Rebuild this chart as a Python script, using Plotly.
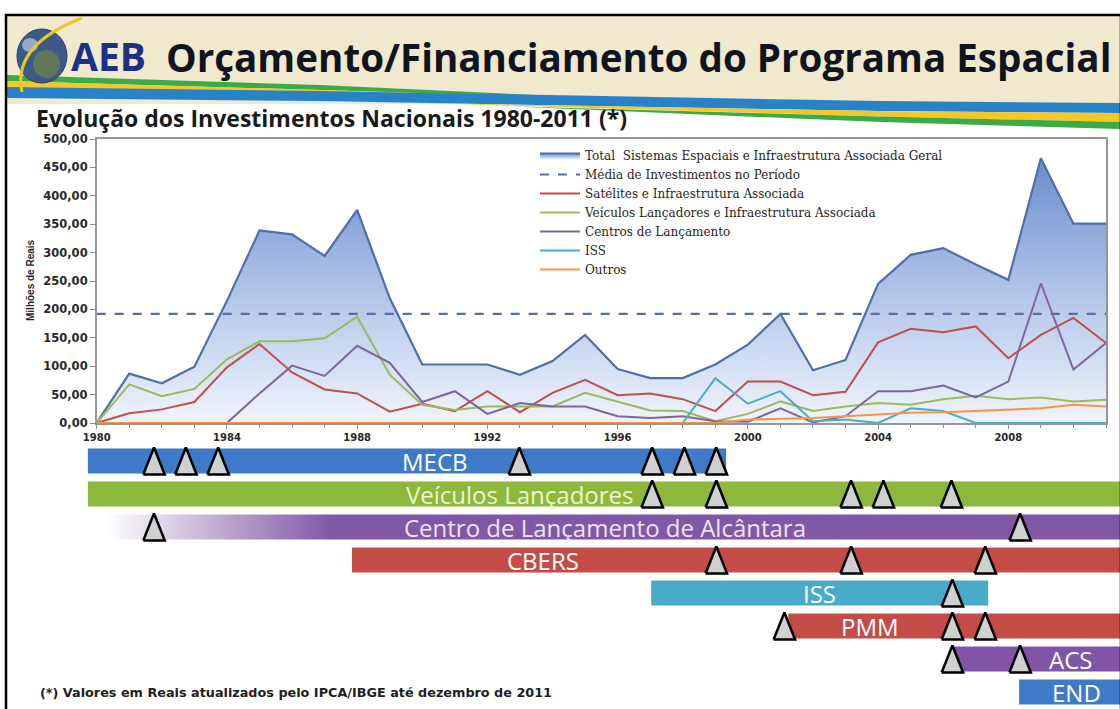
import plotly.graph_objects as go

W, H = 1120, 709

# ---------------- data ----------------
years = list(range(1980, 2012))
total = [0, 87, 70, 99, 215, 339, 332, 294, 375, 220, 103, 103, 103, 85, 109, 155,
         95, 79, 79, 103, 138, 192, 93, 111, 245, 296, 308, 279, 252, 466, 351, 351]
satelites = [0, 17, 24, 37, 98, 139, 89, 59, 52, 20, 34, 21, 56, 19, 53, 76,
             49, 52, 42, 21, 73, 73, 49, 55, 142, 166, 160, 170, 114, 155, 185, 141]
veiculos = [0, 68, 47, 60, 112, 144, 144, 149, 187, 85, 32, 23, 29, 29, 29, 53,
            38, 22, 21, 3, 16, 38, 21, 29, 35, 32, 42, 48, 42, 45, 38, 41]
centros = [None, None, None, None, 0, 52, 101, 83, 136, 106, 37, 56, 16, 35, 29, 29,
           12, 9, 12, 3, 2, 26, 1, 12, 56, 56, 66, 45, 73, 246, 94, 141]
iss = [0, 0, 0, 0, 0, 0, 0, 0, 0, 0, 0, 0, 0, 0, 0, 0,
       0, 0, 0, 79, 34, 56, 3, 6, 0, 26, 21, 0, 0, 0, 0, 0]
outros = [0, 0, 0, 0, 0, 0, 0, 0, 0, 0, 0, 0, 0, 0, 0, 0,
          0, 0, 0, 0, 6, 7, 9, 12, 15, 18, 19, 21, 23, 26, 32, 29]
media_periodo = 192

series_names = [
    "Total  Sistemas Espaciais e Infraestrutura Associada Geral",
    "Média de Investimentos no Período",
    "Satélites e Infraestrutura Associada",
    "Veículos Lançadores e Infraestrutura Associada",
    "Centros de Lançamento",
    "ISS",
    "Outros",
]

# timeline (programs)
tl_names = ["MECB", "Veículos Lançadores", "Centro de Lançamento de Alcântara", "CBERS",
            "ISS", "PMM", "ACS", "END"]
tl_start = [1979.73, 1979.73, 1979.9, 1987.84, 1997.03, 2001.24, 2006.3, 2008.33]
tl_end = [1999.33, 2011.6, 2011.6, 2011.6, 2007.38, 2011.6, 2011.6, 2011.6]
tl_row = [0, 1, 2, 3, 4, 5, 6, 7]

# milestones (triangles)
ms_year = [1981.76, 1982.74, 1983.73, 1992.98, 1997.06, 1998.05, 1999.03,
           1997.06, 1999.03, 2003.17, 2004.16, 2006.25,
           1981.76, 2008.36,
           1999.03, 2003.17, 2007.29,
           2006.28,
           2001.12, 2006.28, 2007.29,
           2006.28, 2008.36]
ms_row = [0, 0, 0, 0, 0, 0, 0,
          1, 1, 1, 1, 1,
          2, 2,
          3, 3, 3,
          4,
          5, 5, 5,
          6, 6]

# ---------------- styles ----------------
C_TOTAL = "rgb(79,110,170)"
C_RED = "rgb(192,80,77)"
C_GREEN = "rgb(155,187,89)"
C_PURPLE = "rgb(128,100,162)"
C_CYAN = "rgb(75,172,198)"
C_ORANGE = "rgb(247,150,70)"

tl_colors = ["rgb(62,122,200)", "rgb(140,184,62)", "rgb(128,88,166)", "rgb(196,76,70)",
             "rgb(72,172,200)", "rgb(196,76,70)", "rgb(128,84,166)", "rgb(62,122,200)"]
tl_text_colors = ["white", "rgb(235,247,205)", "rgb(238,228,246)", "white",
                  "white", "white", "white", "white"]
tl_label_x = [1990.4, 1993.0, 1995.6, 1993.7, 2002.2, 2003.75, 2009.9, 2010.1]


def px(x):
    return x / W


def py(y):
    return 1 - y / H


def pt(x, y):
    return f"{px(x):.4f},{py(y):.4f}"


fig = go.Figure()

# ---------------- main chart ----------------
fig.add_trace(go.Scatter(
    x=years, y=total, name=series_names[0], mode="lines",
    line=dict(color=C_TOTAL, width=2.2), fill="tozeroy",
    fillgradient=dict(type="vertical",
                      colorscale=[[0, "rgb(240,244,252)"], [0.5, "rgb(176,196,232)"],
                                  [1, "rgb(105,140,205)"]]),
))
fig.add_trace(go.Scatter(
    x=[years[0], years[-1]], y=[media_periodo, media_periodo], name=series_names[1],
    mode="lines", line=dict(color=C_TOTAL, width=2.2, dash="dash"),
))
for name, vals, col in [(series_names[2], satelites, C_RED),
                        (series_names[3], veiculos, C_GREEN),
                        (series_names[4], centros, C_PURPLE),
                        (series_names[5], iss, C_CYAN),
                        (series_names[6], outros, C_ORANGE)]:
    fig.add_trace(go.Scatter(x=years, y=vals, name=name, mode="lines",
                             line=dict(color=col, width=2)))

# ---------------- timeline ----------------
solid = [i for i in range(len(tl_names)) if i != 2]
fig.add_trace(go.Bar(
    orientation="h",
    y=[tl_row[i] for i in solid],
    base=[tl_start[i] for i in solid],
    x=[tl_end[i] - tl_start[i] for i in solid],
    width=0.76,
    marker=dict(color=[tl_colors[i] for i in solid], line=dict(width=0)),
    xaxis="x2", yaxis="y2", showlegend=False, hoverinfo="skip",
))
# gradient bar (Centro de Lançamento de Alcântara)
g = 2
hh = 0.38
fig.add_trace(go.Scatter(
    x=[tl_start[g], tl_end[g], tl_end[g], tl_start[g], tl_start[g]],
    y=[tl_row[g] - hh, tl_row[g] - hh, tl_row[g] + hh, tl_row[g] + hh, tl_row[g] - hh],
    mode="lines", line=dict(width=0), fill="toself",
    fillgradient=dict(type="horizontal", start=1980.3, stop=1987.2,
                      colorscale=[[0, "rgb(255,255,255)"], [1, tl_colors[g]]]),
    xaxis="x2", yaxis="y2", showlegend=False, hoverinfo="skip",
))
# milestone triangles
tx, ty = [], []
hw, th = 0.33, 0.41
for yr, r in zip(ms_year, ms_row):
    tx += [yr - hw, yr + hw, yr, yr - hw, None]
    ty += [r + th, r + th, r - th, r + th, None]
fig.add_trace(go.Scatter(
    x=tx, y=ty, mode="lines", fill="toself", fillcolor="rgb(208,208,208)",
    line=dict(color="black", width=2.5), xaxis="x2", yaxis="y2",
    showlegend=False, hoverinfo="skip",
))

annotations = []
for i, name in enumerate(tl_names):
    annotations.append(dict(
        x=tl_label_x[i], y=tl_row[i], xref="x2", yref="y2", text=name, showarrow=False,
        xanchor="center", yanchor="middle",
        font=dict(family="Open Sans", size=24, color=tl_text_colors[i]),
    ))

# ---------------- header & texts ----------------
annotations += [
    dict(x=px(108), y=py(56), xref="paper", yref="paper", xanchor="center", yanchor="middle",
         text="<b>AEB</b>", showarrow=False,
         font=dict(family="Open Sans", size=39, color="rgb(28,48,135)")),
    dict(x=px(164), y=py(57), xref="paper", yref="paper", xanchor="left", yanchor="middle",
         text="<b>Orçamento/Financiamento do Programa Espacial</b>", showarrow=False,
         font=dict(family="Open Sans", size=38.6, color="rgb(15,20,30)")),
    dict(x=px(34), y=py(118), xref="paper", yref="paper", xanchor="left", yanchor="middle",
         text="<b>Evolução dos Investimentos Nacionais 1980-2011 (*)</b>", showarrow=False,
         font=dict(family="Open Sans", size=23, color="rgb(25,25,25)")),
    dict(x=px(30), y=py(280), xref="paper", yref="paper", xanchor="center", yanchor="middle",
         textangle=-90, text="<b>Milhões de Reais</b>", showarrow=False,
         font=dict(family="Liberation Sans", size=10, color="rgb(40,40,40)")),
    dict(x=px(38), y=py(692), xref="paper", yref="paper", xanchor="left", yanchor="middle",
         text="<b>(*) Valores em Reais atualizados pelo IPCA/IBGE até dezembro de 2011</b>",
         showarrow=False,
         font=dict(family="DejaVu Sans", size=12.8, color="rgb(30,30,30)")),
]

shapes = [
    # header background
    dict(type="rect", xref="paper", yref="paper", x0=px(7), x1=px(1120), y0=py(104), y1=py(16),
         fillcolor="rgb(240,233,206)", line=dict(width=0), layer="below"),
    # swoosh: green (left)
    dict(type="path", xref="paper", yref="paper",
         path=f"M{pt(7,75)} L{pt(320,85)} L{pt(620,99)} L{pt(320,90)} L{pt(7,81)} Z",
         fillcolor="rgb(60,170,70)", line=dict(width=0), layer="below"),
    # yellow (left)
    dict(type="path", xref="paper", yref="paper",
         path=f"M{pt(7,81)} L{pt(320,90)} L{pt(420,93)} L{pt(320,92)} L{pt(7,88)} Z",
         fillcolor="rgb(245,200,40)", line=dict(width=0), layer="below"),
    # blue band
    dict(type="path", xref="paper", yref="paper",
         path=(f"M{pt(7,87)} L{pt(320,91)} L{pt(880,101)} L{pt(1120,103)} "
               f"L{pt(1120,113)} L{pt(880,111)} L{pt(320,101)} L{pt(7,98)} Z"),
         fillcolor="rgb(40,130,200)", line=dict(width=0), layer="below"),
    # yellow (right)
    dict(type="path", xref="paper", yref="paper",
         path=f"M{pt(420,103)} L{pt(880,111)} L{pt(1120,113)} L{pt(1120,122)} L{pt(880,116.5)} Z",
         fillcolor="rgb(245,200,40)", line=dict(width=0), layer="below"),
    # green (right)
    dict(type="path", xref="paper", yref="paper",
         path=f"M{pt(500,106)} L{pt(880,116.5)} L{pt(1120,122)} L{pt(1120,129)} L{pt(880,122)} Z",
         fillcolor="rgb(60,170,70)", line=dict(width=0), layer="below"),
    # globe
    dict(type="circle", xref="paper", yref="paper", x0=px(17), x1=px(67), y0=py(83), y1=py(29),
         fillcolor="rgb(60,90,135)", line=dict(color="rgb(40,60,100)", width=1), layer="below"),
    dict(type="circle", xref="paper", yref="paper", x0=px(33), x1=px(60), y0=py(78), y1=py(50),
         fillcolor="rgb(95,120,90)", line=dict(width=0), layer="below"),
    dict(type="circle", xref="paper", yref="paper", x0=px(22), x1=px(38), y0=py(52), y1=py(38),
         fillcolor="rgb(150,170,200)", line=dict(width=0), layer="below"),
    dict(type="path", xref="paper", yref="paper",
         path=f"M{pt(82,18)} Q{pt(12,45)} {pt(22,92)}",
         line=dict(color="rgb(235,200,40)", width=3), layer="below"),
    # slide frame
    dict(type="rect", xref="paper", yref="paper", x0=px(6), x1=px(1121), y0=-0.01, y1=py(15),
         line=dict(color="black", width=2.5), fillcolor="rgba(0,0,0,0)", layer="above"),
]

axis_font = dict(family="DejaVu Sans", size=10, color="rgb(40,40,40)", weight="bold")
fig.update_layout(
    width=W, height=H, margin=dict(l=0, r=0, t=0, b=0, pad=0, autoexpand=False),
    paper_bgcolor="white", plot_bgcolor="rgba(0,0,0,0)",
    separators=",.",
    barmode="overlay",
    showlegend=True,
    legend=dict(x=px(535), y=py(141), xanchor="left", yanchor="top",
                bgcolor="rgba(0,0,0,0)", itemwidth=40, tracegroupgap=0,
                font=dict(family="DejaVu Serif", size=12, color="rgb(30,30,30)")),
    xaxis=dict(domain=[px(96.7), px(1106)], range=[1980, 2011], tickmode="linear",
               tick0=1980, dtick=4, tickformat="d", ticks="outside", ticklen=4,
               tickcolor="rgb(140,140,140)", showline=True, mirror=True,
               linecolor="rgb(150,150,150)", linewidth=1.5, showgrid=False, zeroline=False,
               tickfont=axis_font, automargin=False,
               minor=dict(dtick=1, tick0=1980, ticks="outside", ticklen=3,
                          tickcolor="rgb(140,140,140)", showgrid=False),
               anchor="y"),
    yaxis=dict(domain=[py(423), py(139)], range=[0, 500], tickmode="linear", tick0=0, dtick=50,
               tickformat=".2f", ticks="outside", ticklen=5, tickcolor="rgb(140,140,140)",
               showline=True, mirror=True, linecolor="rgb(150,150,150)", linewidth=1.5,
               showgrid=False, zeroline=False, tickfont=dict(axis_font, size=11.5),
               automargin=False, anchor="x"),
    xaxis2=dict(domain=[0, 1], range=[1980 - 96.7 / 32.56, 1980 + (1120 - 96.7) / 32.56],
                visible=False, anchor="y2", automargin=False),
    yaxis2=dict(domain=[0, py(440)], range=[(709 - 461) / 33, (440 - 461) / 33],
                visible=False, anchor="x2", automargin=False),
    annotations=annotations,
    shapes=shapes,
)

fig.write_html(
    "out.html",
    config={"displayModeBar": False},
    post_script="document.body.style.margin='0';document.body.style.overflow='hidden';",
)
